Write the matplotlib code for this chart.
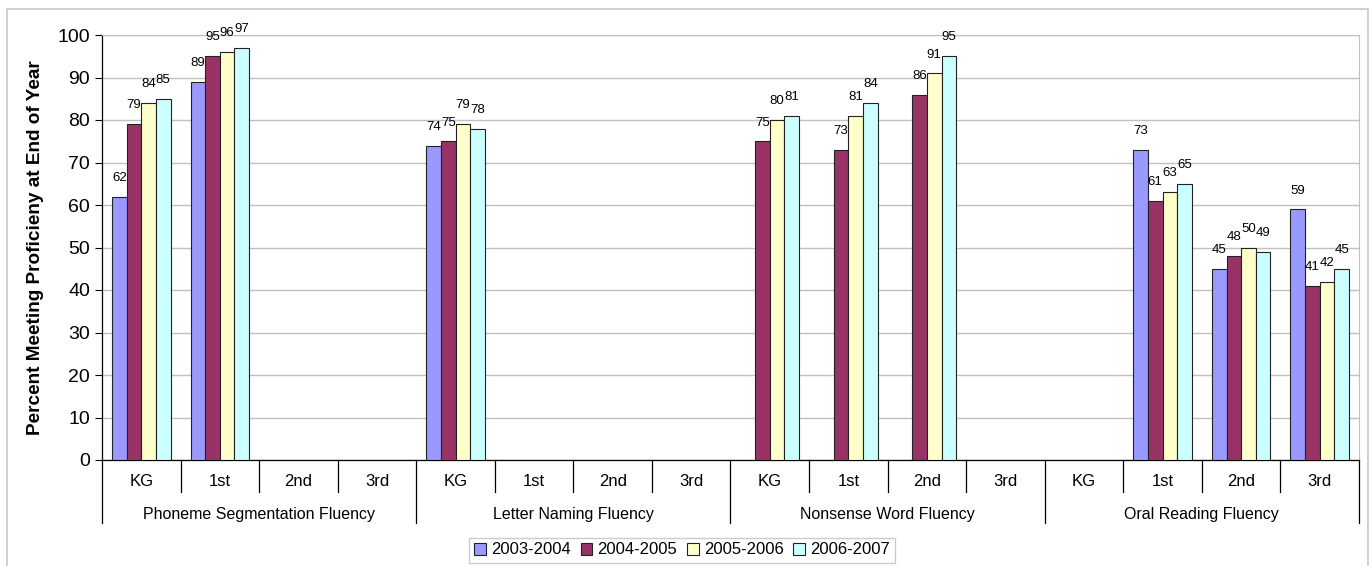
import numpy as np
import matplotlib.pyplot as plt
from matplotlib.lines import Line2D
from matplotlib.patches import Rectangle

plt.rcParams['font.family'] = ['Liberation Sans', 'DejaVu Sans']

# DIBELS-style measures and grades (16 category slots)
measures = ['Phoneme Segmentation Fluency', 'Letter Naming Fluency',
            'Nonsense Word Fluency', 'Oral Reading Fluency']
grades = ['KG', '1st', '2nd', '3rd']
years = ['2003-2004', '2004-2005', '2005-2006', '2006-2007']

nan = np.nan
# one list per school year, 16 values in measure/grade order
y2003 = [62, 89, nan, nan, 74, nan, nan, nan, nan, nan, nan, nan, nan, 73, 45, 59]
y2004 = [79, 95, nan, nan, 75, nan, nan, nan, 75, 73, 86, nan, nan, 61, 48, 41]
y2005 = [84, 96, nan, nan, 79, nan, nan, nan, 80, 81, 91, nan, nan, 63, 50, 42]
y2006 = [85, 97, nan, nan, 78, nan, nan, nan, 81, 84, 95, nan, nan, 65, 49, 45]
series = [y2003, y2004, y2005, y2006]
colors = ['#9999FF', '#993366', '#FFFFCC', '#CCFFFF']

W, H = 1372, 566
fig = plt.figure(figsize=(W / 100, H / 100), dpi=100)
ax = fig.add_axes([102 / W, 1 - 460 / H, (1359 - 102) / W, (460 - 35) / H])

# outer chart border (light gray)
fig.patches.append(Rectangle((7 / W, -0.05), (1368 - 7) / W, 1 - 9 / H + 0.05,
                             transform=fig.transFigure, fill=False,
                             edgecolor='#C8C8C8', linewidth=1.2))

n = len(grades) * len(measures)
x = np.arange(n)
bw = 0.186
for i, (vals, col, lab) in enumerate(zip(series, colors, years)):
    offs = (i - 1.5) * bw
    vals = np.array(vals, dtype=float)
    ax.bar(x + offs, vals, width=bw, color=col, edgecolor='#222222',
           linewidth=0.8, label=lab, zorder=3)
    for xi, v in zip(x + offs, vals):
        if not np.isnan(v):
            ax.text(xi, v + 3.0, f'{int(v)}', ha='center', va='bottom',
                    fontsize=9.5, zorder=4)

ax.set_xlim(-0.5, n - 0.5)
ax.set_ylim(0, 100)
ax.set_yticks(range(0, 101, 10))
ax.tick_params(axis='y', labelsize=14, direction='out', length=5, width=0.8)
ax.set_xticks([])
ax.yaxis.grid(True, color='#C0C0C0', linewidth=1, zorder=0)
ax.set_axisbelow(True)
for s in ['top', 'right']:
    ax.spines[s].set_color('#C0C0C0')
for s in ['left', 'bottom']:
    ax.spines[s].set_color('black')
    ax.spines[s].set_linewidth(0.9)

ax.set_ylabel('Percent Meeting Proficieny at End of Year', fontsize=13.7,
              fontweight='bold', labelpad=10)

# hierarchical category axis
trans = ax.get_xaxis_transform()
ah = 460 - 35
y_grade_sep = -(492 - 460) / ah
y_group_sep = -(523 - 460) / ah
y_grade_txt = -(482 - 460) / ah
y_group_txt = -(514 - 460) / ah
for k in range(n + 1):
    bottom = y_group_sep if k % 4 == 0 else y_grade_sep
    ax.add_line(Line2D([k - 0.5, k - 0.5], [0, bottom], transform=trans,
                       color='black', linewidth=0.9, clip_on=False))
for k in range(n):
    ax.text(k, y_grade_txt, grades[k % 4], transform=trans, ha='center',
            va='center', fontsize=12)
for m, name in enumerate(measures):
    ax.text(m * 4 + 1.5, y_group_txt, name, transform=trans, ha='center',
            va='center', fontsize=11.5)

leg = fig.legend(loc='center', bbox_to_anchor=(682 / W, 1 - 550 / H), ncol=4,
                 fontsize=12, frameon=True, fancybox=False, handlelength=0.7,
                 handleheight=0.7, handletextpad=0.3, columnspacing=0.6,
                 borderpad=0.3, edgecolor='#C0C0C0')
leg.get_frame().set_linewidth(1)

fig.savefig('out.png', dpi=100)
